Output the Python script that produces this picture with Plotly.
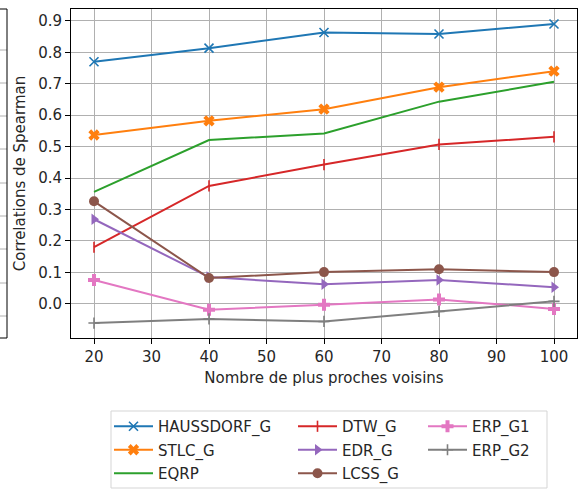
import plotly.graph_objects as go

# ---- data ----
neighbors = [20, 40, 60, 80, 100]
haussdorf_g = [0.770, 0.813, 0.863, 0.858, 0.890]
stlc_g = [0.537, 0.582, 0.619, 0.689, 0.740]
eqrp = [0.356, 0.521, 0.542, 0.643, 0.706]
dtw_g = [0.180, 0.375, 0.443, 0.507, 0.531]
edr_g = [0.269, 0.085, 0.062, 0.076, 0.053]
lcss_g = [0.326, 0.082, 0.101, 0.110, 0.101]
erp_g1 = [0.076, -0.019, -0.003, 0.014, -0.016]
erp_g2 = [-0.061, -0.048, -0.056, -0.024, 0.008]
x_ticks = [20, 30, 40, 50, 60, 70, 80, 90, 100]
y_ticks = [0.0, 0.1, 0.2, 0.3, 0.4, 0.5, 0.6, 0.7, 0.8, 0.9]

W, H = 581, 489
ML, MR, MT, MB = 71, 4, 9, 151
PW, PH = W - ML - MR, H - MT - MB

def px(x):
    return (x - ML) / PW

def py(y):
    return (H - MB - y) / PH

FONT = "DejaVu Sans"
FS = 15
TXT = "#262626"

series = [
    ("HAUSSDORF_G", haussdorf_g, "#1f77b4", "x-thin", 9, "legend", 1),
    ("STLC_G", stlc_g, "#ff7f0e", "x", 10, "legend", 2),
    ("EQRP", eqrp, "#2ca02c", None, 0, "legend", 3),
    ("DTW_G", dtw_g, "#d62728", "line-ns", 8, "legend2", 1),
    ("EDR_G", edr_g, "#9467bd", "triangle-right", 10, "legend2", 2),
    ("LCSS_G", lcss_g, "#8c564b", "circle", 10, "legend2", 3),
    ("ERP_G1", erp_g1, "#e377c2", "cross", 10, "legend3", 1),
    ("ERP_G2", erp_g2, "#7f7f7f", "cross-thin", 8, "legend3", 2),
]

fig = go.Figure()
for name, vals, col, sym, size, leg, rank in series:
    thin = sym in ("x-thin", "line-ns", "cross-thin")
    marker = dict(symbol=sym or "circle", size=size, color=col,
                  line=dict(width=1.6 if thin else 0, color=col))
    fig.add_trace(go.Scatter(
        x=neighbors, y=vals, name=name,
        mode="lines+markers" if sym else "lines",
        line=dict(color=col, width=2),
        marker=marker,
        legend=leg, legendrank=rank, legendgroup=name,
    ))

axis_common = dict(
    showline=True, linecolor="#000", linewidth=1, mirror=True,
    ticks="outside", ticklen=5, tickcolor="#000", tickwidth=1,
    showgrid=True, gridcolor="#b0b0b0", gridwidth=1,
    zeroline=False,
    tickfont=dict(family=FONT, size=FS, color=TXT),
)

fig.update_xaxes(range=[16, 104], tickvals=x_ticks,
                 title=dict(text="Nombre de plus proches voisins",
                            font=dict(family=FONT, size=FS, color=TXT), standoff=7),
                 **axis_common)
fig.update_yaxes(range=[-0.1086, 0.9376], tickvals=y_ticks, tickformat=".1f",
                 title=dict(text="Correlations de Spearman",
                            font=dict(family=FONT, size=FS, color=TXT), standoff=8),
                 **axis_common)

leg_common = dict(
    font=dict(family=FONT, size=FS, color=TXT),
    bgcolor="rgba(0,0,0,0)", borderwidth=0,
    orientation="v", xanchor="left", yanchor="top",
    tracegroupgap=1, itemwidth=39,
)
leg_top = py(410)
fig.update_layout(
    legend=dict(x=px(109), y=leg_top, **leg_common),
    legend2=dict(x=px(293), y=leg_top, **leg_common),
    legend3=dict(x=px(423), y=leg_top, **leg_common),
)

shapes = [
    dict(type="rect", xref="paper", yref="paper",
         x0=px(111), x1=px(547), y0=py(411), y1=py(488),
         line=dict(color="#d5d5d5", width=1), fillcolor="white", layer="below"),
]
# clipped neighbouring axes on the far left
for gy in [50, 83, 116, 149, 183, 216, 249, 283, 316]:
    shapes.append(dict(type="line", xref="paper", yref="paper",
                       x0=px(0), x1=px(7), y0=py(gy), y1=py(gy),
                       line=dict(color="#b0b0b0", width=1)))
for (x0, y0, x1, y1) in [(7, 9, 7, 338), (0, 9, 7, 9), (0, 338, 7, 338)]:
    shapes.append(dict(type="line", xref="paper", yref="paper",
                       x0=px(x0), x1=px(x1), y0=py(y0), y1=py(y1),
                       line=dict(color="#000", width=1)))

fig.update_layout(
    width=W, height=H,
    margin=dict(l=ML, r=MR, t=MT, b=MB, autoexpand=False),
    paper_bgcolor="white", plot_bgcolor="white",
    font=dict(family=FONT, size=FS, color=TXT),
    shapes=shapes,
)

fig.write_html(
    "out.html",
    config={"displayModeBar": False},
    post_script="document.body.style.margin='0';document.body.style.overflow='hidden';",
)
